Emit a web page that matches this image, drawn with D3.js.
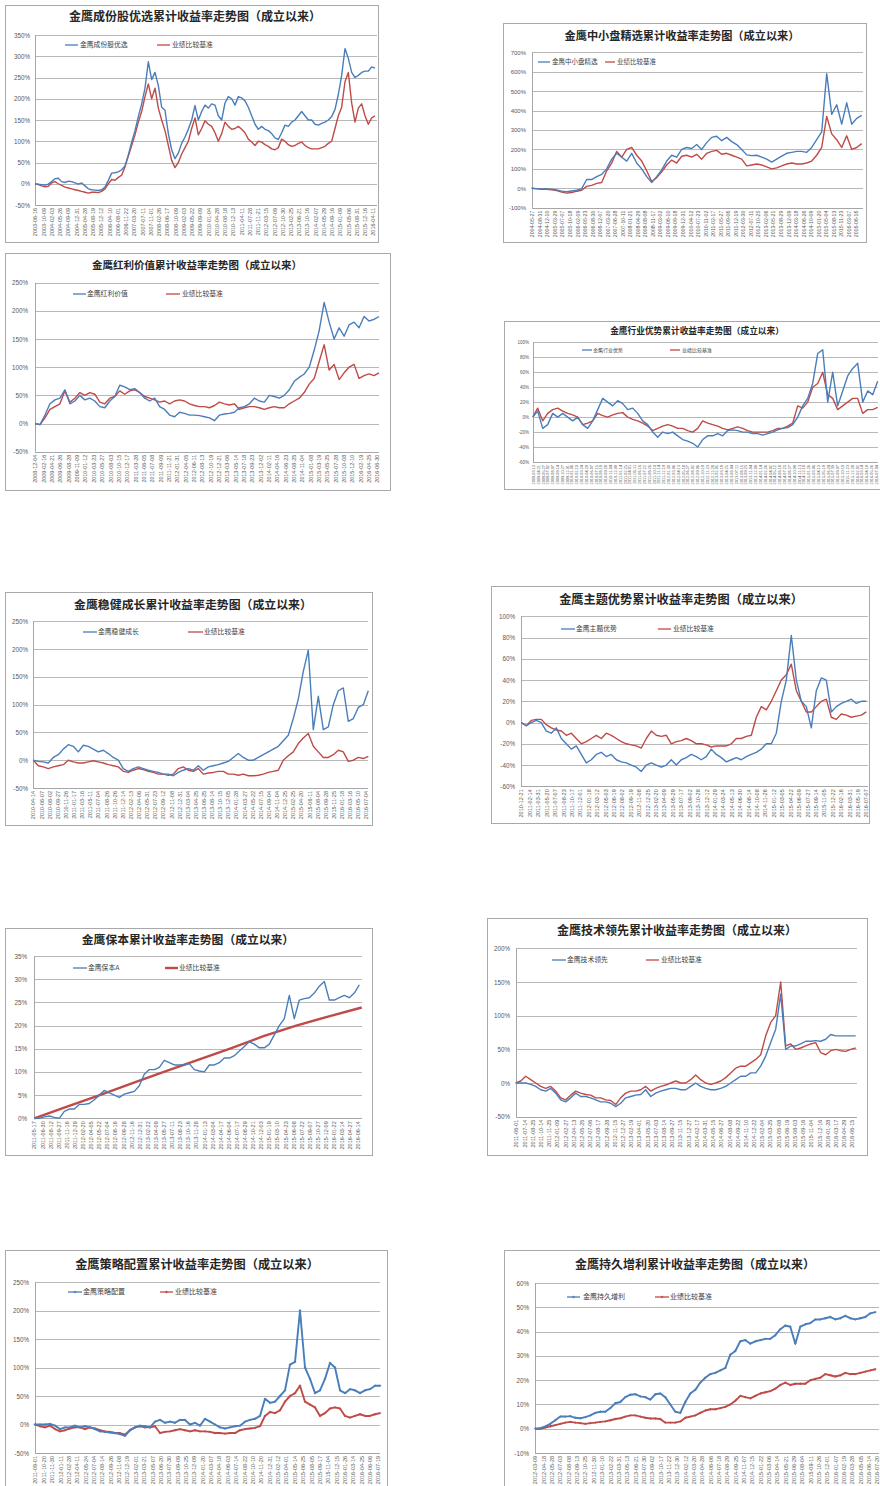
<!DOCTYPE html>
<html><head><meta charset="utf-8">
<script src="https://cdn.jsdelivr.net/npm/d3@7"></script>
<style>body{margin:0;background:#fff}svg{display:block}</style>
</head><body>
<script>
// ---------- DATA ----------
const seriesBenchName = "业绩比较基准";

const p1Title = "金鹰成份股优选累计收益率走势图（成立以来）";
const p1Name = "金鹰成份股优选";
const p1Ticks = [-50,0,50,100,150,200,250,300,350];
const p1Labels = ["2003-06-16","2003-10-09","2004-02-03","2004-05-26","2004-09-09","2004-12-31","2005-04-28","2005-08-19","2005-12-12","2006-04-10","2006-08-01","2006-11-22","2007-03-20","2007-07-11","2007-11-01","2008-02-26","2008-06-17","2008-10-09","2009-02-03","2009-05-22","2009-09-09","2010-01-04","2010-04-28","2010-08-18","2010-12-13","2011-04-11","2011-07-28","2011-11-21","2012-03-15","2012-07-09","2012-10-30","2013-02-25","2013-06-21","2013-10-16","2014-02-07","2014-05-29","2014-09-16","2015-01-09","2015-05-06","2015-08-31","2015-12-16","2016-04-11"];
const p1Blue = [0,-1,-2,-3,-1,5,12,13,5,3,6,5,2,-1,2,-5,-12,-14,-15,-16,-14,-8,8,25,26,28,33,42,68,98,125,158,188,225,287,245,262,231,180,173,118,80,59,72,95,110,128,150,184,150,170,185,178,188,185,160,150,190,205,200,185,205,202,195,180,160,140,128,135,128,125,118,108,104,120,138,135,145,150,160,170,160,150,150,140,138,142,145,150,158,175,210,255,318,295,262,250,255,262,265,265,275,272];
const p1Red = [0,-2,-5,-7,-6,2,5,0,-4,-8,-10,-12,-14,-16,-18,-20,-22,-20,-20,-21,-18,-12,0,10,8,15,20,40,65,90,115,145,170,205,235,200,225,178,150,125,90,55,38,50,70,85,100,130,155,115,130,148,140,135,120,100,118,145,135,128,130,135,128,120,105,98,90,100,98,92,88,82,80,85,105,100,92,88,90,95,98,90,85,82,82,82,85,88,95,100,130,160,180,240,262,190,145,178,188,160,140,155,160];

const p2Title = "金鹰中小盘精选累计收益率走势图（成立以来）";
const p2Name = "金鹰中小盘精选";
const p2Ticks = [-100,0,100,200,300,400,500,600,700];
const p2Labels = ["2004-05-27","2004-08-31","2004-12-10","2005-03-29","2005-07-07","2005-10-18","2006-02-09","2006-05-23","2006-08-30","2006-12-07","2007-03-20","2007-06-28","2007-10-11","2008-01-21","2008-04-29","2008-08-08","2008-11-17","2009-03-02","2009-06-10","2009-09-18","2009-12-31","2010-04-12","2010-07-23","2010-11-02","2011-02-17","2011-05-27","2011-09-06","2011-12-19","2012-03-30","2012-07-11","2012-10-25","2013-02-06","2013-05-21","2013-08-29","2013-12-09","2014-03-18","2014-06-26","2014-10-09","2015-01-20","2015-05-04","2015-08-13","2015-11-23","2016-03-07","2016-06-16"];
const p2Blue = [0,-2,-3,-3,-5,-8,-15,-18,-14,-10,-2,45,45,60,72,100,150,180,160,140,180,130,100,60,30,60,95,140,170,160,200,210,205,225,200,235,262,268,245,262,240,225,200,172,168,170,160,150,135,150,165,180,185,190,190,185,210,250,290,590,380,430,330,440,330,360,375];
const p2Red = [0,-3,-5,-5,-8,-12,-20,-25,-22,-15,-10,10,15,25,30,90,130,190,160,200,210,170,140,90,35,55,85,120,145,130,165,170,160,175,150,180,190,195,175,180,170,160,150,115,120,125,120,110,100,105,115,125,130,125,125,130,140,170,210,370,280,250,210,270,200,210,230];

const p3Title = "金鹰红利价值累计收益率走势图（成立以来）";
const p3Name = "金鹰红利价值";
const p3Ticks = [-50,0,50,100,150,200,250];
const p3Labels = ["2008-12-04","2009-02-16","2009-04-21","2009-06-26","2009-08-28","2009-11-09","2010-01-12","2010-03-23","2010-05-27","2010-08-03","2010-10-15","2010-12-17","2011-03-28","2011-06-05","2011-07-08","2011-09-09","2011-11-21","2012-01-31","2012-04-05","2012-06-11","2012-08-13","2012-10-19","2012-12-21","2013-03-06","2013-05-14","2013-07-18","2013-09-23","2013-12-02","2014-02-11","2014-04-16","2014-06-23","2014-08-25","2014-11-04","2015-01-08","2015-03-19","2015-05-25","2015-07-28","2015-10-08","2015-12-10","2016-02-19","2016-04-25","2016-06-30"];
const p3Blue = [0,-2,15,35,42,45,60,35,40,50,42,45,40,30,28,40,48,68,65,60,62,55,45,40,45,30,25,15,12,20,18,15,15,14,12,10,5,15,17,18,20,28,30,35,45,40,38,50,48,45,50,60,75,82,88,100,130,165,215,180,150,170,155,175,180,170,190,182,185,190];
const p3Red = [0,-2,10,25,30,35,58,38,45,55,50,55,52,38,35,45,48,58,52,58,60,55,48,45,42,38,40,35,40,42,40,35,32,30,30,28,32,38,35,33,35,25,28,30,30,28,25,28,30,28,28,35,40,45,55,70,80,110,140,95,105,78,90,100,105,80,85,88,85,90];

const p4Title = "金鹰行业优势累计收益率走势图（成立以来）";
const p4Name = "金鹰行业优势";
const p4Ticks = [-60,-40,-20,0,20,40,60,80,100];
const p4Labels = ["2009-03-13","2009-04-21","2009-05-27","2009-07-02","2009-08-07","2009-09-14","2009-10-27","2009-12-01","2010-01-06","2010-02-10","2010-03-24","2010-04-29","2010-06-07","2010-07-15","2010-08-19","2010-09-28","2010-11-04","2010-12-09","2011-01-14","2011-02-25","2011-04-01","2011-05-11","2011-06-16","2011-07-22","2011-08-26","2011-10-10","2011-11-14","2011-12-19","2012-01-30","2012-03-06","2012-04-13","2012-05-18","2012-06-27","2012-08-02","2012-09-06","2012-10-19","2012-11-23","2012-12-28","2013-02-05","2013-03-19","2013-04-25","2013-06-04","2013-07-11","2013-08-15","2013-09-23","2013-11-04","2013-12-09","2014-01-14","2014-02-26","2014-04-02","2014-05-12","2014-06-18","2014-07-23","2014-08-27","2014-10-09","2014-11-13","2014-12-18","2015-01-26","2015-03-06","2015-04-13","2015-05-19","2015-06-24","2015-07-30","2015-09-07","2015-10-19","2015-11-23","2015-12-28","2016-02-02","2016-03-14","2016-04-19","2016-05-26","2016-07-04"];
const p4Blue = [0,8,-15,-10,5,0,5,0,-5,0,-10,-15,-5,10,25,20,15,22,18,10,12,5,-5,-10,-20,-27,-20,-22,-20,-25,-30,-32,-35,-40,-30,-25,-25,-22,-25,-18,-17,-18,-20,-20,-22,-22,-24,-22,-20,-17,-15,-14,-10,0,15,25,45,85,90,20,60,15,35,55,65,72,20,35,30,48];
const p4Red = [0,12,-5,5,10,12,8,5,3,0,-10,-8,-5,5,2,0,3,5,6,0,-3,-5,-8,-12,-18,-15,-12,-10,-12,-15,-15,-18,-20,-15,-5,-8,-10,-12,-15,-17,-15,-13,-15,-18,-20,-20,-20,-20,-18,-15,-15,-12,-8,15,12,20,40,45,60,30,25,10,15,20,25,25,5,10,10,13];

const p5Title = "金鹰稳健成长累计收益率走势图（成立以来）";
const p5Name = "金鹰稳健成长";
const p5Ticks = [-50,0,50,100,150,200,250];
const p5Labels = ["2010-04-14","2010-06-07","2010-08-02","2010-09-27","2010-11-26","2011-01-17","2011-03-16","2011-05-11","2011-07-04","2011-08-26","2011-10-26","2011-12-14","2012-02-13","2012-04-06","2012-05-31","2012-07-23","2012-09-12","2012-11-08","2012-12-31","2013-03-04","2013-04-25","2013-06-25","2013-08-14","2013-10-15","2013-12-05","2014-01-28","2014-03-27","2014-05-22","2014-07-15","2014-09-04","2014-11-04","2014-12-25","2015-02-25","2015-04-20","2015-06-11","2015-08-04","2015-09-28","2015-11-25","2016-01-18","2016-03-16","2016-05-10","2016-07-04"];
const p5Blue = [0,-2,-3,-5,5,10,20,28,25,15,27,25,20,15,18,12,5,0,-15,-20,-15,-12,-15,-18,-20,-22,-25,-25,-28,-22,-18,-15,-18,-10,-18,-12,-10,-8,-5,-2,5,12,5,0,0,5,10,15,20,25,35,45,75,110,160,198,55,115,55,60,100,125,130,70,75,95,100,125];
const p5Red = [0,-10,-12,-15,-12,-10,-8,0,-3,-5,-5,-3,-1,-3,-5,-8,-10,-12,-20,-22,-18,-15,-17,-20,-22,-25,-25,-27,-25,-15,-12,-18,-20,-15,-25,-23,-22,-20,-20,-25,-25,-27,-25,-28,-28,-27,-25,-22,-20,-18,0,8,15,30,40,48,25,15,5,5,10,18,15,-2,0,5,3,7];

const p6Title = "金鹰主题优势累计收益率走势图（成立以来）";
const p6Name = "金鹰主题优势";
const p6Ticks = [-60,-40,-20,0,20,40,60,80,100];
const p6Labels = ["2010-12-21","2011-02-14","2011-03-31","2011-05-20","2011-07-07","2011-08-23","2011-10-17","2011-12-01","2012-01-18","2012-03-12","2012-05-03","2012-06-19","2012-08-02","2012-09-19","2012-11-08","2012-12-25","2013-02-20","2013-04-09","2013-05-29","2013-07-17","2013-09-02","2013-10-28","2013-12-12","2014-01-29","2014-03-24","2014-05-13","2014-06-30","2014-08-14","2014-10-08","2014-11-26","2015-01-12","2015-03-05","2015-04-22","2015-06-09","2015-07-27","2015-09-14","2015-11-05","2015-12-22","2016-02-16","2016-03-31","2016-05-19","2016-07-07"];
const p6Blue = [0,-3,0,2,0,-8,-10,-5,-15,-20,-25,-22,-30,-38,-35,-30,-28,-32,-30,-35,-37,-38,-40,-42,-46,-40,-38,-40,-42,-40,-35,-40,-35,-33,-30,-32,-35,-32,-25,-30,-33,-37,-35,-33,-35,-32,-30,-28,-25,-20,-20,-10,20,40,82,40,20,15,-5,30,42,40,10,15,18,20,22,18,20,20];
const p6Red = [0,-3,2,3,3,-2,-5,-7,-8,-12,-10,-15,-20,-18,-15,-12,-15,-10,-12,-15,-18,-20,-21,-22,-24,-15,-8,-12,-13,-12,-20,-18,-17,-15,-17,-20,-20,-21,-23,-22,-22,-22,-20,-15,-15,-13,-12,5,15,12,20,30,40,45,55,30,20,10,10,15,20,22,5,3,8,7,5,6,7,10];

const p7Title = "金鹰保本累计收益率走势图（成立以来）";
const p7Name = "金鹰保本A";
const p7Ticks = [0,5,10,15,20,25,30,35];
const p7Labels = ["2011-05-17","2011-06-30","2011-08-12","2011-09-27","2011-11-16","2011-12-29","2012-02-20","2012-04-05","2012-05-22","2012-07-04","2012-08-16","2012-09-28","2012-11-16","2012-12-31","2013-02-22","2013-04-09","2013-05-27","2013-07-11","2013-08-23","2013-10-16","2013-11-28","2014-01-13","2014-03-04","2014-04-17","2014-06-04","2014-07-17","2014-08-29","2014-10-21","2014-12-03","2015-01-19","2015-03-10","2015-04-23","2015-06-08","2015-07-22","2015-09-07","2015-10-27","2015-12-09","2016-01-22","2016-03-14","2016-04-27","2016-06-14"];
const p7Blue = [0,0,0.3,0.5,0.2,0,1.5,2,2,3,3,3.2,4,5,6,5.5,5,4.5,5.2,5.5,5.8,7,9.5,10.5,10.5,11,12.5,12,11.5,11.5,11.5,11.8,10.5,10.2,10,11.5,11.5,12,13,13,13.5,14.5,15.5,16.5,16,15.2,15.2,16,18,20,21.5,26.5,21.5,25.5,25.8,26,27,28.5,29.5,25.5,25.5,26,26.5,26,27,28.8];
const p7Red = [0,2.5,5.0,7.6,10.1,12.6,15.1,17.7,20.0,22.0,23.9];

const p8Title = "金鹰技术领先累计收益率走势图（成立以来）";
const p8Name = "金鹰技术领先";
const p8Ticks = [-50,0,50,100,150,200];
const p8Labels = ["2011-06-01","2011-07-14","2011-08-25","2011-10-14","2011-11-25","2012-01-09","2012-02-27","2012-04-13","2012-05-25","2012-07-06","2012-08-17","2012-09-28","2012-11-15","2012-12-27","2013-02-19","2013-04-01","2013-05-20","2013-07-03","2013-08-14","2013-09-27","2013-11-15","2013-12-27","2014-02-17","2014-03-31","2014-05-15","2014-06-27","2014-08-08","2014-09-22","2014-11-10","2014-12-22","2015-02-04","2015-03-25","2015-05-08","2015-06-19","2015-08-03","2015-09-16","2015-11-04","2015-12-16","2016-01-28","2016-03-17","2016-04-29","2016-06-15"];
const p8Blue = [0,0,0,-2,-5,-10,-12,-8,-15,-25,-28,-22,-15,-20,-20,-22,-25,-28,-28,-30,-35,-30,-22,-20,-18,-17,-10,-20,-15,-12,-10,-8,-8,-10,-10,-5,0,-5,-8,-10,-10,-8,-5,0,5,10,10,15,15,25,40,60,80,132,50,55,55,58,62,62,63,62,65,72,70,70,70,70,70];
const p8Red = [0,3,10,5,0,-5,-8,-5,-12,-22,-25,-18,-12,-15,-17,-18,-22,-22,-25,-26,-32,-22,-15,-12,-12,-10,-5,-12,-8,-5,-3,0,3,0,0,5,12,5,0,-2,0,3,8,15,22,25,25,30,35,42,70,90,100,150,55,58,50,52,55,58,60,45,42,48,50,48,47,50,52];

const p9Title = "金鹰策略配置累计收益率走势图（成立以来）";
const p9Name = "金鹰策略配置";
const p9Ticks = [-50,0,50,100,150,200,250];
const p9Labels = ["2011-09-01","2011-10-20","2011-11-30","2012-01-11","2012-02-28","2012-04-11","2012-05-24","2012-07-04","2012-08-14","2012-09-26","2012-11-08","2012-12-19","2013-02-01","2013-03-21","2013-05-07","2013-06-20","2013-07-30","2013-09-09","2013-10-25","2013-12-09","2014-01-20","2014-03-07","2014-04-18","2014-06-03","2014-07-14","2014-08-22","2014-10-10","2014-11-20","2014-12-31","2015-02-12","2015-04-01","2015-05-14","2015-06-25","2015-08-05","2015-09-17","2015-11-04","2015-12-15","2016-01-26","2016-03-14","2016-04-25","2016-06-06","2016-07-19"];
const p9Blue = [0,0,0,1,-2,-8,-5,-5,-2,-5,-3,-5,-8,-12,-13,-14,-15,-17,-20,-10,-5,-2,-3,-5,5,8,3,5,3,8,8,0,3,-2,10,5,0,-5,-7,-5,-3,-2,5,8,10,15,45,38,40,50,60,105,110,200,100,80,55,60,80,108,100,60,55,62,60,55,60,62,68,68];
const p9Red = [0,-3,-5,-2,-8,-12,-10,-7,-5,-5,-8,-5,-7,-10,-12,-13,-15,-15,-18,-10,-5,-3,-5,-5,-3,-15,-13,-12,-10,-8,-10,-12,-10,-12,-12,-13,-15,-15,-16,-15,-15,-10,-8,-7,-6,-3,15,22,20,25,40,50,55,68,40,35,30,15,20,28,30,28,15,12,15,18,15,15,18,20];

const p10Title = "金鹰持久增利累计收益率走势图（成立以来）";
const p10Name = "金鹰持久增利";
const p10Ticks = [-10,0,10,20,30,40,50,60];
const p10Labels = ["2012-03-09","2012-04-18","2012-05-28","2012-07-03","2012-08-08","2012-09-13","2012-10-25","2012-11-30","2013-01-10","2013-02-22","2013-03-31","2013-05-13","2013-06-21","2013-07-30","2013-09-02","2013-10-17","2013-11-22","2013-12-30","2014-02-12","2014-03-20","2014-04-28","2014-06-06","2014-07-18","2014-08-29","2014-09-25","2014-11-07","2014-12-15","2015-01-22","2015-03-06","2015-04-14","2015-05-21","2015-06-29","2015-08-04","2015-09-11","2015-10-26","2015-12-01","2016-01-07","2016-02-19","2016-03-28","2016-05-05","2016-06-14","2016-07-20"];
const p10Blue = [0,0.2,1,2,3.5,5,5,5.2,4.5,4.3,4.8,5.5,6.5,7,7,8.5,10.5,11,13,14,14.2,13.3,13,12,14.2,14.5,13,10,7,6.5,11,14.5,16,19,21,22.5,23,24,25,30.5,32,36,36.5,35,36,36.5,37,37,38.5,41,42.5,42,35,42,43,43.5,45,45,45.5,46,45,45.5,46.5,45.5,45,45.5,46,47.5,48];
const p10Red = [0,0,0.5,1,1.5,2,2.5,2.8,2.5,2.3,2,2.3,2.5,2.8,3,3.5,4,4.3,5,5.5,5.5,5,4.5,4.2,4.2,4,2.5,2.5,2.5,3,4.5,5,5.5,6.5,7.5,8,8,8.5,9,10,11.5,13.5,13,12.5,13.5,14.5,15,15.5,16.5,18,19,18,18.5,18.5,18.5,20,20.5,21,22.5,22,21.5,22,23,22.5,22.5,23,23.5,24,24.5];

// ---------- LAYOUT ----------
const CJK = "'Noto Sans CJK SC','Noto Sans',sans-serif";
const NUM = "'Liberation Sans',Arial,sans-serif";
const BLUE = "#4a7ebb", RED = "#be4b48";

const panels = [
 {title:p1Title,name:p1Name,ticks:p1Ticks,labels:p1Labels,blue:p1Blue,red:p1Red,
  box:[5,5,378,242],tx:195,ty:17,ts:12,l:35,r:377,yTop:35,yBot:205,ylx:30,yf:6.3,
  xl0:35,xl1:373,xf:5.5,bd:[35,375],rd:[35,375],leg:{y:45,b:[65,78],bt:80,r:[157,170],rt:172,f:6.8}},
 {title:p2Title,name:p2Name,ticks:p2Ticks,labels:p2Labels,blue:p2Blue,red:p2Red,
  box:[503,23,866,242],tx:682,ty:36,ts:11.2,l:532,r:863,yTop:52.3,yBot:207.7,ylx:526,yf:6,
  xl0:532,xl1:856,xf:5.2,bd:[531.7,861.7],rd:[531.7,861.7],leg:{y:62,b:[538,550],bt:552,r:[605,615],rt:617,f:6.5}},
 {title:p3Title,name:p3Name,ticks:p3Ticks,labels:p3Labels,blue:p3Blue,red:p3Red,
  box:[5,253,390,490],tx:197,ty:265,ts:10.5,l:35,r:379,yTop:282.7,yBot:451.7,ylx:28,yf:6.3,
  xl0:35,xl1:377,xf:5.5,bd:[35,379],rd:[35,379],leg:{y:294,b:[73,86],bt:87,r:[166,180],rt:182,f:6.8}},
 {title:p4Title,name:p4Name,ticks:p4Ticks,labels:p4Labels,blue:p4Blue,red:p4Red,
  box:[504,321,880,489],tx:697,ty:331,ts:8.7,l:533,r:878,yTop:342.3,yBot:462,ylx:529,yf:4.5,
  xl0:533,xl1:876,xf:3.8,bd:[532.7,877.7],rd:[532.7,877.7],leg:{y:350,b:[582,592],bt:593,r:[670,680],rt:682,f:5}},
 {title:p5Title,name:p5Name,ticks:p5Ticks,labels:p5Labels,blue:p5Blue,red:p5Red,
  box:[5,592,372,825],tx:193,ty:605,ts:11.9,l:33,r:368,yTop:621.3,yBot:788,ylx:28,yf:6.3,
  xl0:33,xl1:366,xf:5.5,bd:[33.3,368.3],rd:[33.3,368.3],leg:{y:632,b:[83,97],bt:98,r:[188,203],rt:204,f:6.8}},
 {title:p6Title,name:p6Name,ticks:p6Ticks,labels:p6Labels,blue:p6Blue,red:p6Red,
  box:[491,586,869,823],tx:681,ty:600,ts:12.2,l:521,r:868,yTop:616.3,yBot:786.3,ylx:515,yf:6.3,
  xl0:521,xl1:866,xf:5.5,bd:[521.3,866.3],rd:[521.3,866.3],leg:{y:629,b:[561,575],bt:576,r:[658,671],rt:673,f:6.8}},
 {title:p7Title,name:p7Name,ticks:p7Ticks,labels:p7Labels,blue:p7Blue,red:p7Red,
  box:[5,928,372,1155],tx:188,ty:940,ts:11.8,l:34,r:362,yTop:956,yBot:1118.3,ylx:27,yf:6.3,
  xl0:34,xl1:358,xf:5.5,bd:[34.3,359.3],rd:[34.3,361.7],redW:2.4,leg:{y:968,b:[73,87],bt:88,r:[165,178],rt:179,f:6.8}},
 {title:p8Title,name:p8Name,ticks:p8Ticks,labels:p8Labels,blue:p8Blue,red:p8Red,
  box:[487,918,867,1155],tx:677,ty:931,ts:12,l:516,r:857,yTop:948.3,yBot:1116.7,ylx:510,yf:6.3,
  xl0:516,xl1:852,xf:5.5,bd:[515.7,855.7],rd:[515.7,855.7],leg:{y:960,b:[552,566],bt:567,r:[646,659],rt:661,f:6.8}},
 {title:p9Title,name:p9Name,ticks:p9Ticks,labels:p9Labels,blue:p9Blue,red:p9Red,
  box:[5,1250,387,1500],tx:197,ty:1265,ts:12.2,l:35,r:380,yTop:1282,yBot:1453,ylx:29,yf:6.3,
  xl0:35,xl1:378,xf:5.5,bd:[35,380],rd:[35,380],marker:true,lw:1.9,leg:{y:1292,b:[68,82],bt:83,r:[160,173],rt:175,f:7}},
 {title:p10Title,name:p10Name,ticks:p10Ticks,labels:p10Labels,blue:p10Blue,red:p10Red,
  box:[504,1250,885,1500],tx:695,ty:1265,ts:12,l:535,r:879,yTop:1283,yBot:1453,ylx:529,yf:6.3,
  xl0:535,xl1:877,xf:5.5,bd:[535.3,875.3],rd:[535.3,875.3],marker:true,lw:1.9,leg:{y:1297,b:[567,580],bt:583,r:[655,669],rt:670,f:7}}
];

const svg = d3.select("body").append("svg").attr("width",880).attr("height",1486);
svg.append("rect").attr("width",880).attr("height",1486).attr("fill","#fff");

function drawPanel(c){
  const g = svg.append("g");
  g.append("rect").attr("x",c.box[0]+0.5).attr("y",c.box[1]+0.5)
    .attr("width",c.box[2]-c.box[0]).attr("height",c.box[3]-c.box[1])
    .attr("fill","#fff").attr("stroke","#a9a9a9").attr("stroke-width",1);
  const ymin = c.ticks[0], ymax = c.ticks[c.ticks.length-1];
  const y = d3.scaleLinear().domain([ymin,ymax]).range([c.yBot,c.yTop]);

  const grid = g.append("g").attr("transform",`translate(${c.l},0)`)
    .call(d3.axisLeft(y).tickValues(c.ticks).tickSize(-(c.r-c.l)).tickFormat(""));
  grid.select(".domain").remove();
  grid.selectAll("line").attr("stroke","#b8b8b8").attr("stroke-width",1).attr("shape-rendering","crispEdges");

  const ya = g.append("g").attr("transform",`translate(${c.ylx},0)`)
    .call(d3.axisLeft(y).tickValues(c.ticks).tickSize(0).tickPadding(0).tickFormat(d=>d+"%"));
  ya.select(".domain").remove();
  ya.selectAll("text").attr("font-size",c.yf).attr("font-family",NUM).attr("fill","#595959");

  const xp = d3.scalePoint().domain(c.labels).range([c.xl0,c.xl1]);
  const xa = g.append("g").attr("transform",`translate(0,${c.yBot})`)
    .call(d3.axisBottom(xp).tickSize(0));
  xa.select(".domain").remove();
  xa.selectAll("text").attr("transform","rotate(-90)").attr("text-anchor","end")
    .attr("x",-3).attr("y",0).attr("dy","0.35em")
    .attr("font-size",c.xf).attr("font-family",NUM).attr("fill","#595959");
  g.append("line").attr("x1",c.l).attr("x2",c.r).attr("y1",Math.round(c.yBot)+0.5).attr("y2",Math.round(c.yBot)+0.5)
    .attr("stroke","#a6a6a6");
  g.append("line").attr("x1",Math.round(c.l)+0.5).attr("x2",Math.round(c.l)+0.5).attr("y1",c.yTop).attr("y2",c.yBot)
    .attr("stroke","#a6a6a6");

  function drawSeries(vals, span, color, width){
    const x = d3.scaleLinear().domain([0,vals.length-1]).range(span);
    const line = d3.line().x((d,i)=>x(i)).y(d=>y(d));
    g.append("path").datum(vals).attr("d",line).attr("fill","none")
      .attr("stroke",color).attr("stroke-width",width).attr("stroke-linejoin","round");
    if(c.marker){
      const sym = d3.symbol().type(d3.symbolCross).size(3);
      g.append("g").selectAll("path").data(vals).join("path")
        .attr("transform",(d,i)=>`translate(${x(i)},${y(d)})`).attr("d",sym).attr("fill",color);
    }
  }
  const lw = c.lw || 1.4;
  drawSeries(c.red, c.rd, RED, c.redW||lw);
  drawSeries(c.blue, c.bd, BLUE, lw);

  const L = c.leg;
  [[L.b,L.bt,BLUE,c.name,1.3],[L.r,L.rt,RED,seriesBenchName,c.redW||1.3]].forEach(([xs,tx,col,txt,w])=>{
    g.append("line").attr("x1",xs[0]).attr("x2",xs[1]).attr("y1",L.y).attr("y2",L.y)
      .attr("stroke",col).attr("stroke-width",w);
    if(c.marker){
      g.append("path").attr("transform",`translate(${(xs[0]+xs[1])/2},${L.y})`)
        .attr("d",d3.symbol().type(d3.symbolCross).size(4)()).attr("fill",col);
    }
    g.append("text").attr("x",tx).attr("y",L.y).attr("dy","0.35em").text(txt)
      .attr("font-size",L.f).attr("font-family",CJK).attr("fill","#404040");
  });

  g.append("text").attr("x",c.tx).attr("y",c.ty).attr("dy","0.36em").attr("text-anchor","middle")
    .attr("font-size",c.ts).attr("font-weight","bold").attr("font-family",CJK).attr("fill","#262626")
    .text(c.title);
}
panels.forEach(drawPanel);
</script>
</body></html>
